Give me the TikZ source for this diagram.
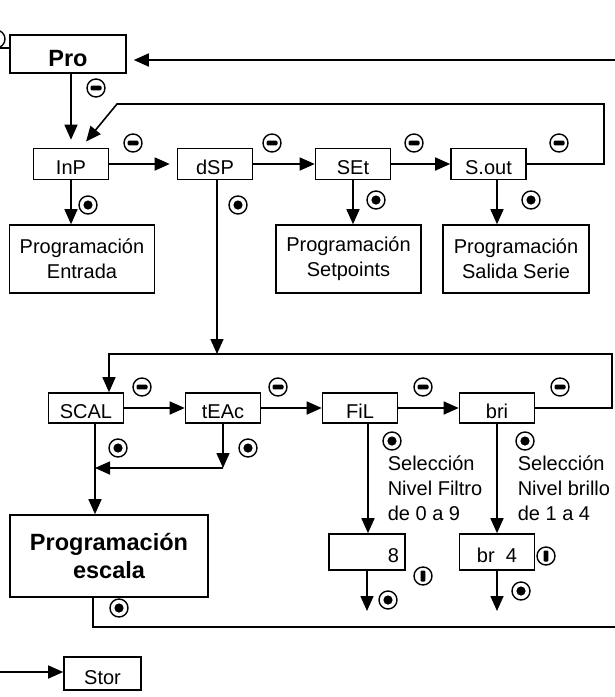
\documentclass[tikz,border=0pt]{standalone}
\usepackage{fontspec}
\setmainfont{Liberation Sans}
\usetikzlibrary{arrows.meta, positioning}

\begin{document}
\begin{tikzpicture}[
        x=1pt, y=-1pt,
        line width=1.6pt,
        >={Triangle[length=15pt,width=13pt]},
        box/.style={draw, line width=1.6pt, minimum width=75pt, minimum height=31pt, inner sep=0pt,
            text height=21pt, text depth=0pt, font=\fontsize{20}{24}\selectfont},
        prog/.style={draw, line width=1.6pt, minimum height=68pt, inner sep=0pt, align=center,
            font=\fontsize{20}{25}\selectfont},
        note/.style={anchor=base west, inner sep=0pt, align=left, font=\fontsize{20}{25}\selectfont},
        key/.style={circle, draw, line width=1.4pt, minimum size=18pt, inner sep=0pt},
        kmin/.style={key, path picture={\fill[rounded corners=1.2pt] ([xshift=-5.5pt,yshift=-2.3pt]path picture bounding box.center) rectangle ++(11pt,4.6pt);}},
        kent/.style={key, path picture={\fill (path picture bounding box.center) circle (4.6pt);}},
        kstop/.style={key, path picture={\fill[rounded corners=1pt] ([xshift=-2.4pt,yshift=-5.5pt]path picture bounding box.center) rectangle ++(4.8pt,11pt);}}
    ]
        \useasboundingbox (0,0) rectangle (614,697);

        % first level
        \node[box, minimum width=116pt, minimum height=38pt, font=\bfseries\fontsize{23.5}{28}\selectfont, text height=24pt] (pro) at (68,54) {Pro};
        \node[box] (inp)  at (71,164)    {InP};
        \node[box] (dsp)  at (215,164)   {dSP};
        \node[box] (set)  at (353,164)   {SEt};
        \node[box] (sout) at (488.5,164) {S.out};

        \node[prog, minimum width=145pt] (pent) at (82,259) {Programación\\Entrada};
        \node[prog, minimum width=145pt] (pset) at (348.5,259) {Programación\\Setpoints};
        \node[prog, minimum width=146pt] (pser) at (516,259) {Programación\\Salida Serie};

        \node[key]  (k0) at (-4,39)   {};
        \node[kmin] (m0) at (96,88)   {};
        \node[kmin] (m1) at (133,143) {};
        \node[kmin] (m2) at (272,143) {};
        \node[kmin] (m3) at (414,143) {};
        \node[kmin] (m4) at (559,143) {};
        \node[kent] (e1) at (88,205)  {};
        \node[kent] (e2) at (238,205) {};
        \node[kent] (e3) at (376,200) {};
        \node[kent] (e4) at (531,200) {};

        \coordinate (lin) at (-2,48);
        \coordinate (rin) at (616,60);
        \coordinate (lp1) at (604,104);
        \coordinate (lp2) at (117,104);

        \draw (lin) -- (lin -| pro.west);
        \draw[->, shorten >=7pt] (rin) -- (rin -| pro.east);
        \draw[->, shorten >=8pt] (inp.north |- pro.south) -- (inp.north);
        \draw[->, shorten >=8pt] (sout.east) -| (lp1) -- (lp2) -- ([xshift=10pt]inp.north);
        \draw[->, shorten >=7pt] (inp) -- (dsp);
        \draw[->] (dsp) -- (set);
        \draw[->] (set) -- (sout);
        \draw[->] (inp) -- (inp |- pent.north);
        \draw[->] (set) -- (set |- pset.north);
        \draw[->] ([xshift=8.5pt]sout.south) -- ([xshift=8.5pt]sout.south |- pser.north);

        % second level
        \node[box, minimum height=30pt] (scal) at (86,408)  {SCAL};
        \node[box, minimum height=30pt] (teac) at (223,408) {tEAc};
        \node[box, minimum height=30pt] (fil)  at (360,408) {FiL};
        \node[box, minimum height=30pt] (bri)  at (497,408) {bri};

        \node[prog, minimum width=198pt, minimum height=82pt, font=\bfseries\fontsize{23.5}{28}\selectfont] (esc) at (109,556) {Programación\\escala};

        \node[box, minimum height=36pt, minimum width=76pt, text width=64pt, align=right] (v8)  at (367,552) {8};
        \node[box, minimum height=36pt, minimum width=75pt] (vbr) at (497,552) {br\ \ 4};

        \node[note] (nfil) at (387,520) {Selección\\Nivel Filtro\\de 0 a 9};
        \node[note] (nbri) at (517,520) {Selección\\Nivel brillo\\de 1 a 4};

        \node[kmin] (m5) at (142,387) {};
        \node[kmin] (m6) at (278,387) {};
        \node[kmin] (m7) at (423,387) {};
        \node[kmin] (m8) at (560,387) {};
        \node[kent] (e5) at (118,448) {};
        \node[kent] (e6) at (248,448) {};
        \node[kent] (e7) at (392,441) {};
        \node[kent] (e8) at (525,441) {};
        \node[kstop] (s1) at (423,576) {};
        \node[kstop] (s2) at (546,556) {};
        \node[kent] (e9)  at (388,600) {};
        \node[kent] (e10) at (521,591) {};
        \node[kent] (e11) at (119,608) {};

        \coordinate (j1) at (217,354);
        \coordinate (lp3) at (612,354);
        \coordinate (lp4) at (109,354);
        \coordinate (j2) at (223,468);
        \coordinate (sd) at ([xshift=9pt]scal.south);
        \coordinate (d8) at (367,611);
        \coordinate (dbr) at (497,611);
        \coordinate (bt) at (616,627);

        \draw[->] (dsp.south -| j1) -- (j1);
        \draw[->] (bri.east) -| (lp3) -- (lp4) -- (lp4 |- scal.north);
        \draw[->] (scal) -- (teac);
        \draw[->] (teac) -- (fil);
        \draw[->] (fil) -- (bri);
        \draw[->] (teac) -- (j2);
        \draw[->] (j2) -- (j2 -| sd);
        \draw[->] (sd) -- (sd |- esc.north);
        \draw[->] ([xshift=8pt]fil.south) -- ([xshift=8pt]fil.south |- v8.north);
        \draw[->] (bri) -- (vbr);
        \draw[->] (v8) -- (d8);
        \draw[->] (vbr) -- (dbr);
        \draw ([xshift=-16pt]esc.south) |- (bt);

        % exit
        \node[box, minimum width=77pt, minimum height=33pt] (stor) at (102.5,673.5) {Stor};
        \coordinate (sin) at (-2,672);
        \draw[->] (sin) -- (sin -| stor.west);
    \end{tikzpicture}
\end{document}
